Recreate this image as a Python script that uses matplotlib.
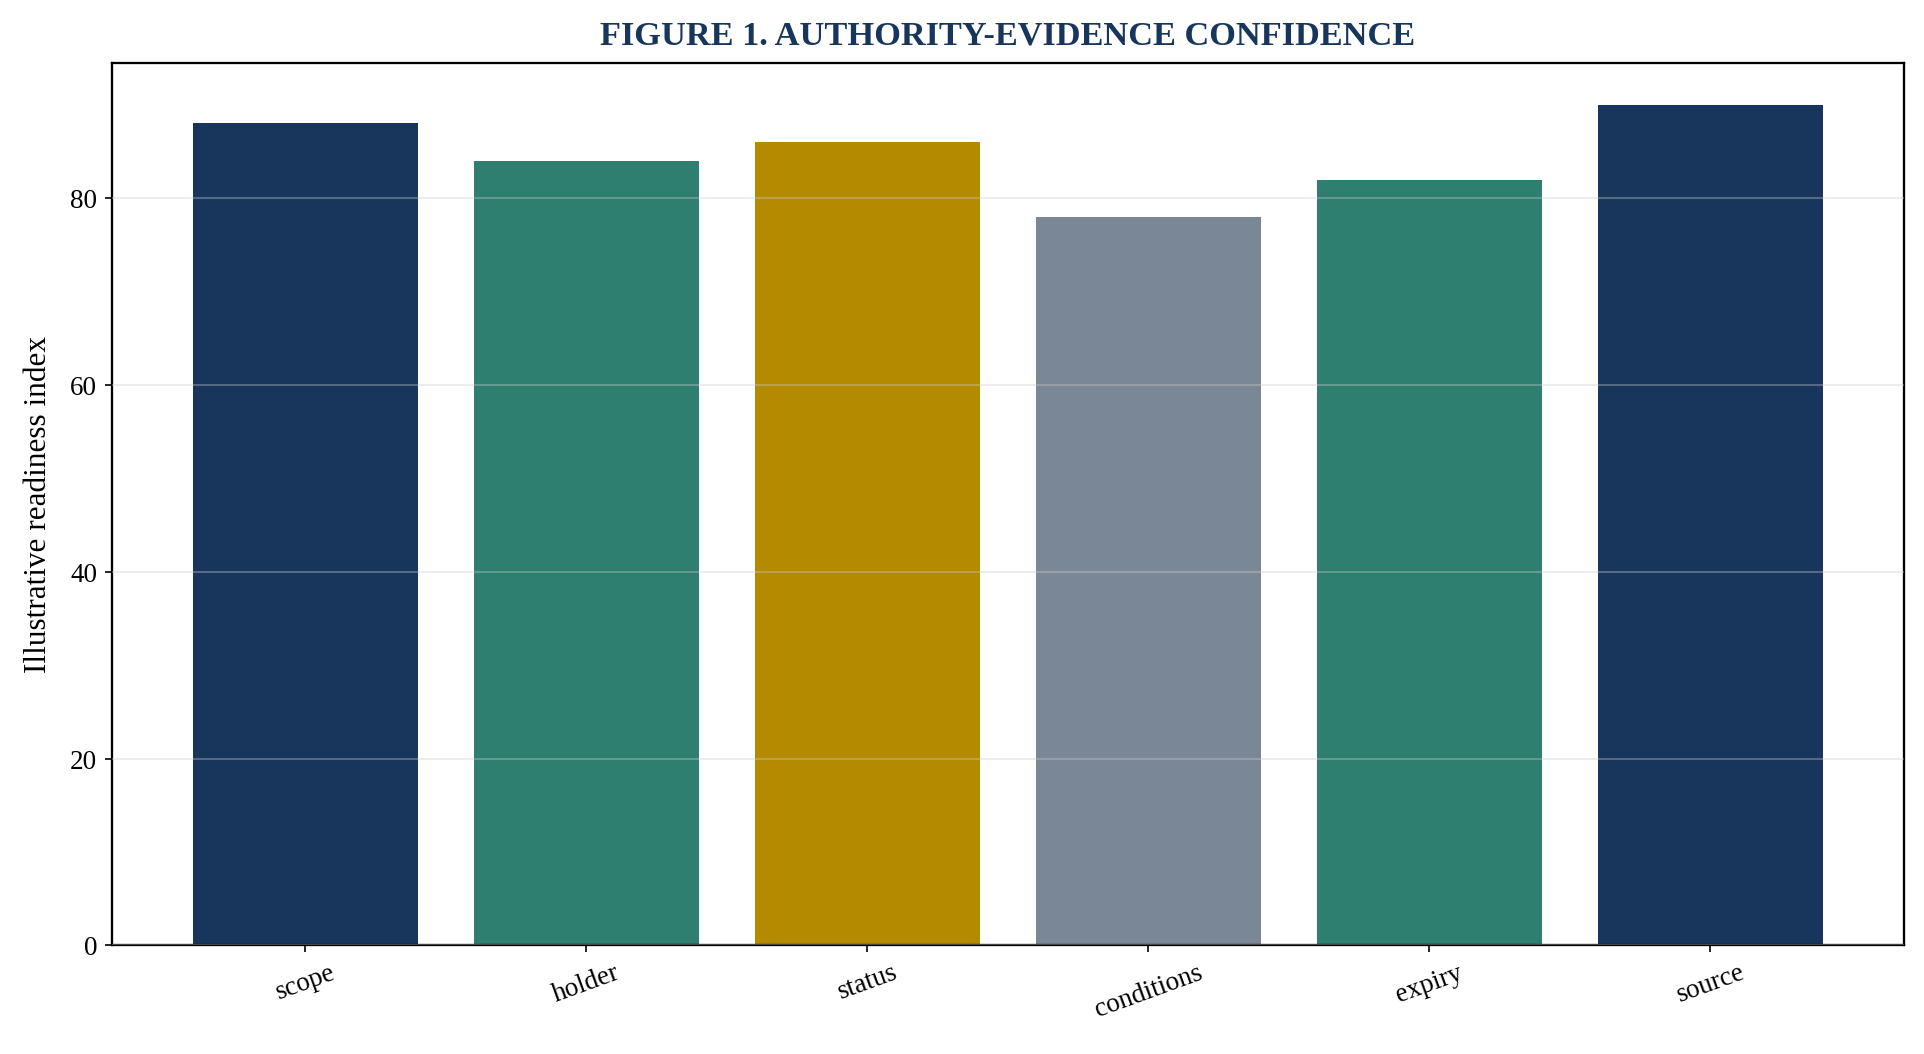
import matplotlib
matplotlib.use("Agg")
import matplotlib.pyplot as plt

categories = ["scope", "holder", "status", "conditions", "expiry", "source"]
values = [88, 84, 86, 78, 82, 90]
colors = ["#18365c", "#2e7f6f", "#b38a00", "#7a8796", "#2e7f6f", "#18365c"]

plt.rcParams["font.family"] = ["Liberation Serif", "DejaVu Serif"]

fig, ax = plt.subplots(figsize=(12.83, 7.03), dpi=150)
fig.subplots_adjust(left=0.058, right=0.9895, top=0.94, bottom=0.103)

ax.bar(range(len(categories)), values, color=colors, width=0.8, zorder=2)
ax.set_xticks(range(len(categories)))
ax.set_xticklabels(categories, rotation=20, fontsize=13)
ax.tick_params(axis="y", labelsize=13)
ax.set_ylabel("Illustrative readiness index", fontsize=15, labelpad=8)
ax.set_title("FIGURE 1. AUTHORITY-EVIDENCE CONFIDENCE", fontsize=16.5,
             fontweight="bold", color="#18365c", pad=9)
ax.yaxis.grid(True, color="#cccccc", alpha=0.35, linewidth=1, zorder=3)
ax.set_axisbelow(False)
for s in ax.spines.values():
    s.set_linewidth(1.1)

fig.savefig("out.png", dpi=150)
